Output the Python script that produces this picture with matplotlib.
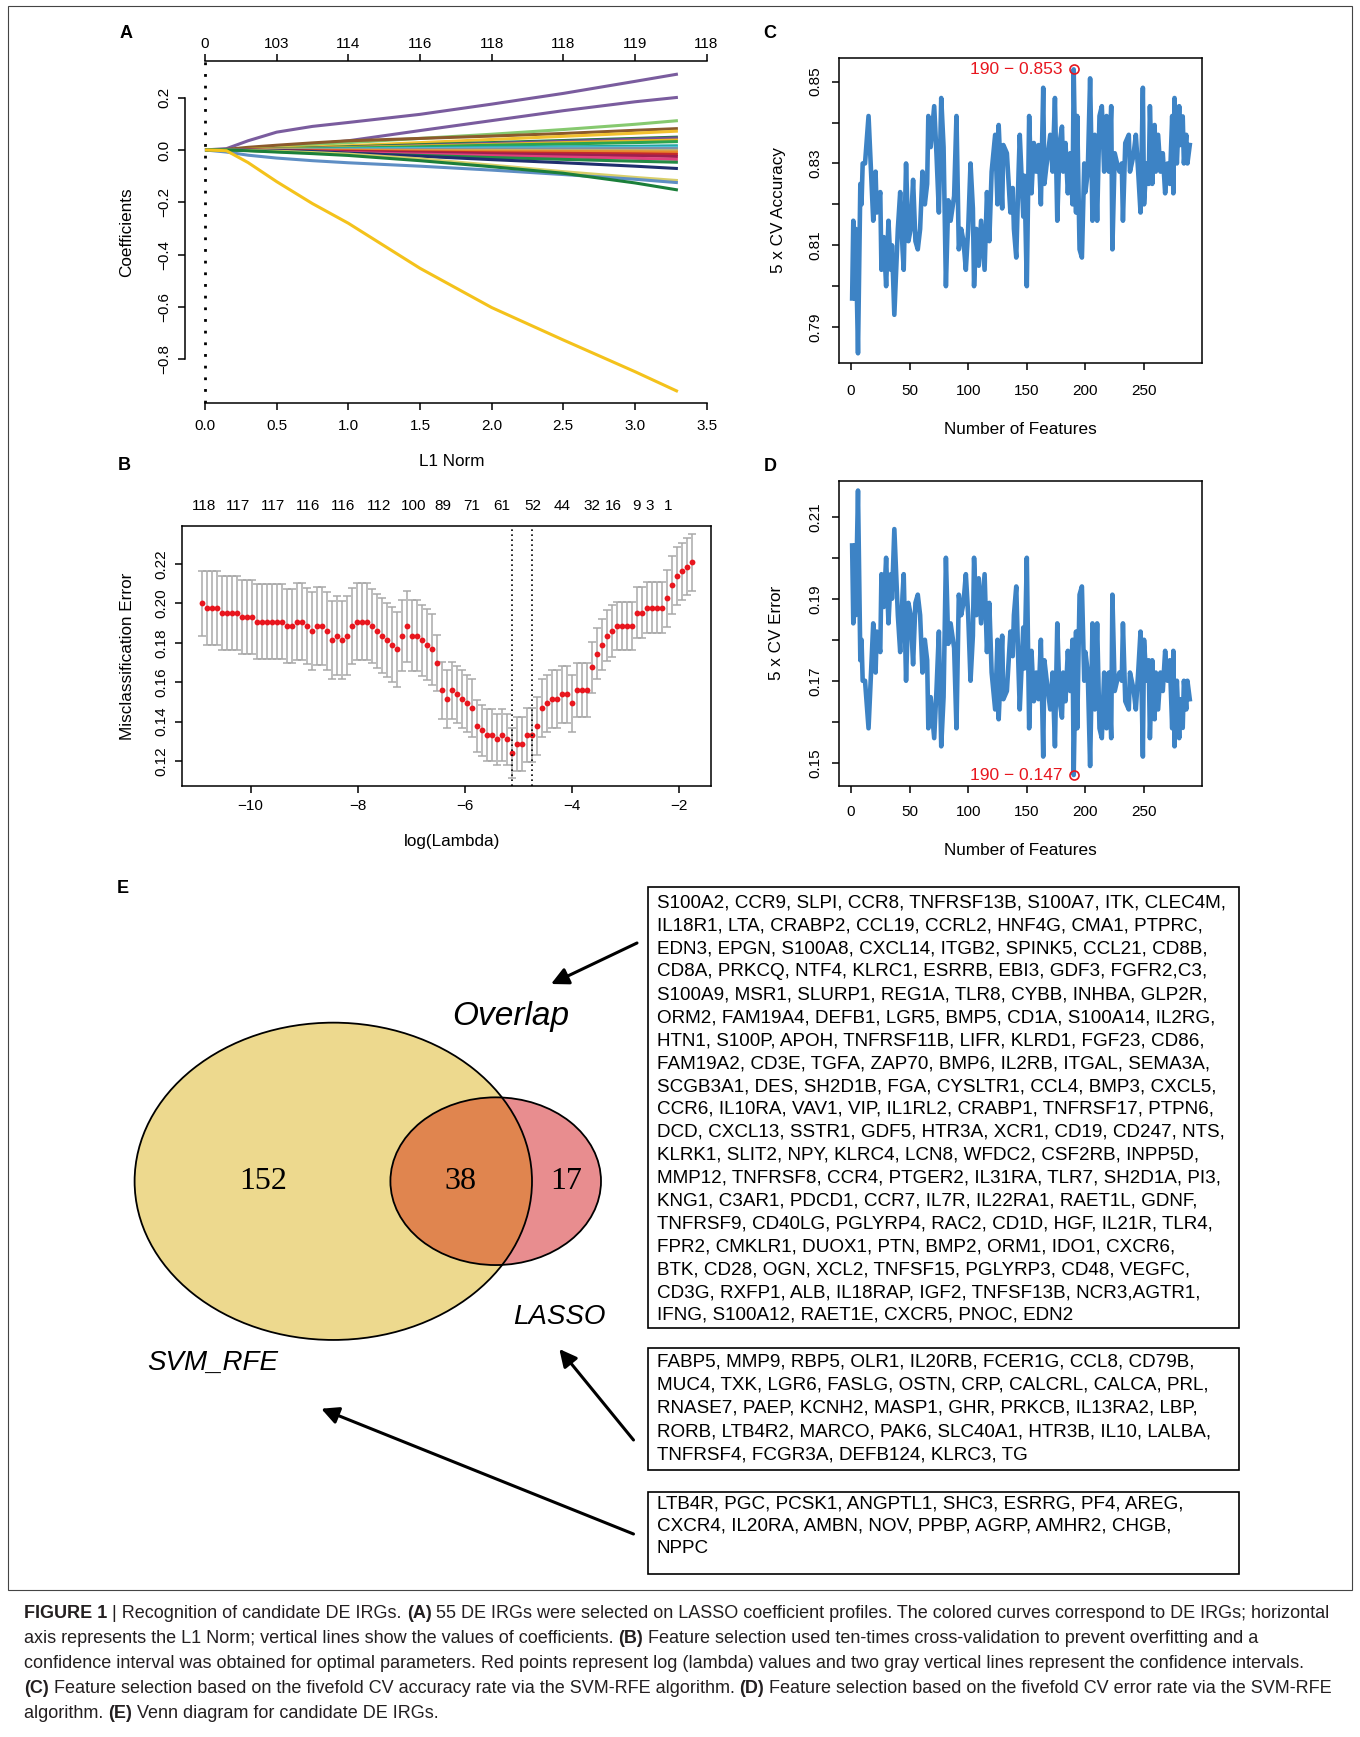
import numpy as np
import matplotlib
matplotlib.use("Agg")
import matplotlib.pyplot as plt
from matplotlib import font_manager
from matplotlib.patches import Ellipse, Rectangle, FancyArrowPatch
from matplotlib.transforms import offset_copy

W, H = 1360, 1737
plt.rcParams['font.family'] = ['Liberation Sans', 'DejaVu Sans']
installed = {f.name for f in font_manager.fontManager.ttflist}
NARROW = 'Liberation Sans Narrow' if 'Liberation Sans Narrow' in installed else 'Liberation Sans'

RED = '#E8161E'
BLUE = '#3D83C5'
GREY = '#A9A9A9'

# ========================
# A : LASSO coefficient profiles
# ========================
l1_norm = [0, 0.15, 0.3, 0.5, 0.75, 1.0, 1.5, 2.0, 2.5, 3.0, 3.3]
coef_colors = ['#7A5C9E', '#7A5C9E', '#86C96F', '#8B5A2B', '#F2C12E', '#1E7B3C',
               '#6E4F96', '#E9B824', '#2DA44E', '#20A39E', '#4CC3D9', '#7F8FA6',
               '#C9B86A', '#E8892B', '#C62A2A', '#9E1F4F', '#E0407E', '#238B45',
               '#1F2F6E', '#D9CF6A', '#5E8EC4', '#1B7F3A', '#F4C21B']
coef_values = [
    [0, 0.005, 0.035, 0.068, 0.090, 0.105, 0.136, 0.175, 0.216, 0.262, 0.290],
    [0, 0, 0.003, 0.012, 0.022, 0.035, 0.074, 0.112, 0.150, 0.184, 0.201],
    [0, 0, 0.004, 0.012, 0.020, 0.028, 0.044, 0.060, 0.078, 0.098, 0.112],
    [0, 0.002, 0.010, 0.018, 0.027, 0.035, 0.044, 0.053, 0.063, 0.075, 0.0815],
    [0, 0, 0.002, 0.006, 0.011, 0.016, 0.028, 0.040, 0.052, 0.064, 0.072],
    [0, 0, 0.001, 0.004, 0.008, 0.012, 0.020, 0.028, 0.036, 0.044, 0.049],
    [0, 0, 0.001, 0.003, 0.006, 0.010, 0.017, 0.025, 0.033, 0.041, 0.046],
    [0, 0, 0.001, 0.003, 0.006, 0.009, 0.015, 0.021, 0.028, 0.034, 0.038],
    [0, 0, 0, 0.002, 0.004, 0.007, 0.012, 0.018, 0.023, 0.028, 0.032],
    [0, 0, 0, 0.001, 0.003, 0.004, 0.007, 0.010, 0.012, 0.014, 0.016],
    [0, 0, 0, 0.001, 0.002, 0.003, 0.005, 0.007, 0.008, 0.009, 0.010],
    [0, 0, 0, 0, 0.001, 0.001, 0.002, 0.003, 0.004, 0.005, 0.005],
    [0, 0, 0, 0, -0.001, -0.001, -0.002, -0.002, -0.003, -0.003, -0.003],
    [0, 0, 0, -0.001, -0.002, -0.002, -0.004, -0.005, -0.006, -0.007, -0.008],
    [0, 0, -0.001, -0.002, -0.004, -0.005, -0.008, -0.011, -0.013, -0.015, -0.017],
    [0, 0, -0.001, -0.003, -0.005, -0.007, -0.011, -0.015, -0.019, -0.022, -0.025],
    [0, 0, -0.001, -0.004, -0.007, -0.010, -0.016, -0.022, -0.027, -0.032, -0.036],
    [0, 0, -0.002, -0.006, -0.010, -0.014, -0.021, -0.029, -0.036, -0.043, -0.047],
    [0, 0, -0.001, -0.003, -0.006, -0.012, -0.024, -0.037, -0.049, -0.062, -0.071],
    [0, 0, -0.002, -0.005, -0.010, -0.016, -0.034, -0.058, -0.083, -0.105, -0.117],
    [0, -0.008, -0.020, -0.031, -0.041, -0.049, -0.062, -0.077, -0.094, -0.112, -0.125],
    [0, 0, -0.003, -0.008, -0.014, -0.021, -0.041, -0.064, -0.089, -0.126, -0.153],
    [0, -0.003, -0.048, -0.121, -0.205, -0.280, -0.452, -0.602, -0.726, -0.847, -0.923],
]
a_xticks = [0, 0.5, 1.0, 1.5, 2.0, 2.5, 3.0, 3.5]
a_top_labels = ['0', '103', '114', '116', '118', '118', '119', '118']
a_yticks = [-0.8, -0.6, -0.4, -0.2, 0.0, 0.2]

# ========================
# B : cross-validation curve
# ========================
log_lambda = np.linspace(-10.911, -1.77, 99)
cv_mean = [0.2000, 0.1978, 0.1978, 0.1978, 0.1953, 0.1953, 0.1953, 0.1953, 0.1931, 0.1931,
           0.1931, 0.1907, 0.1907, 0.1907, 0.1907, 0.1907, 0.1907, 0.1885, 0.1885, 0.1907,
           0.1907, 0.1885, 0.1860, 0.1885, 0.1885, 0.1860, 0.1814, 0.1836, 0.1814, 0.1836,
           0.1885, 0.1907, 0.1907, 0.1907, 0.1885, 0.1860, 0.1836, 0.1814, 0.1791, 0.1767,
           0.1836, 0.1885, 0.1836, 0.1836, 0.1814, 0.1791, 0.1767, 0.1697, 0.1560, 0.1515,
           0.1560, 0.1538, 0.1515, 0.1493, 0.1469, 0.1378, 0.1356, 0.1332, 0.1332, 0.1310,
           0.1332, 0.1310, 0.1241, 0.1286, 0.1286, 0.1332, 0.1332, 0.1378, 0.1469, 0.1493,
           0.1515, 0.1515, 0.1538, 0.1538, 0.1493, 0.1560, 0.1560, 0.1560, 0.1675, 0.1745,
           0.1791, 0.1836, 0.1860, 0.1885, 0.1885, 0.1885, 0.1885, 0.1953, 0.1953, 0.1978,
           0.1978, 0.1978, 0.1978, 0.2025, 0.2093, 0.2139, 0.2163, 0.2186, 0.2208]
cv_sd = [0.0166, 0.0188, 0.0188, 0.0188, 0.0188, 0.0188, 0.0188, 0.0188, 0.0190, 0.0190,
         0.0190, 0.0190, 0.0190, 0.0190, 0.0190, 0.0190, 0.0190, 0.0190, 0.0190, 0.0195,
         0.0195, 0.0195, 0.0200, 0.0200, 0.0200, 0.0200, 0.0200, 0.0200, 0.0200, 0.0200,
         0.0195, 0.0195, 0.0195, 0.0195, 0.0190, 0.0190, 0.0190, 0.0190, 0.0190, 0.0190,
         0.0180, 0.0180, 0.0180, 0.0180, 0.0180, 0.0180, 0.0180, 0.0140, 0.0145, 0.0145,
         0.0145, 0.0145, 0.0145, 0.0145, 0.0145, 0.0130, 0.0130, 0.0130, 0.0130, 0.0130,
         0.0130, 0.0130, 0.0125, 0.0135, 0.0135, 0.0135, 0.0135, 0.0145, 0.0145, 0.0145,
         0.0145, 0.0145, 0.0145, 0.0145, 0.0145, 0.0135, 0.0135, 0.0135, 0.0130, 0.0130,
         0.0130, 0.0130, 0.0130, 0.0120, 0.0120, 0.0120, 0.0120, 0.0130, 0.0130, 0.0130,
         0.0130, 0.0130, 0.0130, 0.0145, 0.0145, 0.0145, 0.0145, 0.0145, 0.0145]
lambda_lines = [-5.127, -4.754]
nz_pos = [-10.87, -10.23, -9.58, -8.92, -8.27, -7.61, -6.96, -6.42, -5.87, -5.31,
          -4.74, -4.19, -3.62, -3.22, -2.80, -2.55, -2.21]
nz_labels = ['118', '117', '117', '116', '116', '112', '100', '89', '71', '61',
             '52', '44', '32', '16', '9', '3', '1']

# ========================
# C / D : SVM-RFE accuracy (error = 1 - accuracy)
# ========================
n_features = [1, 2, 3, 4, 6, 8, 9, 10, 12, 15, 17, 19, 21, 22, 25, 26, 28, 30, 32, 34,
              35, 37, 40, 42, 44, 45, 47, 49, 51, 53, 55, 57, 59, 61, 63, 65, 66, 68, 71, 73,
              75, 77, 79, 81, 83, 85, 88, 90, 92, 94, 96, 98, 100, 102, 104, 105, 107, 109, 111, 114,
              116, 118, 120, 123, 125, 126, 129, 130, 133, 136, 138, 139, 141, 143, 144, 147, 148, 150, 152, 154,
              156, 158, 160, 162, 164, 165, 167, 170, 172, 174, 176, 178, 180, 181, 183, 185, 187, 189, 190, 192,
              193, 195, 197, 199, 200, 202, 204, 205, 206, 208, 210, 212, 214, 216, 218, 220, 222, 223, 225, 227,
              229, 231, 232, 234, 237, 238, 241, 243, 245, 247, 249, 250, 252, 254, 255, 257, 259, 260, 262, 264,
              266, 268, 270, 272, 274, 275, 276, 278, 280, 281, 283, 284, 286, 287, 289]
cv_accuracy = [0.797, 0.816, 0.797, 0.814, 0.7836, 0.825, 0.820, 0.830, 0.830, 0.8416,
               0.829, 0.816, 0.828, 0.818, 0.823, 0.804, 0.812, 0.800, 0.816, 0.804,
               0.810, 0.793, 0.814, 0.823, 0.809, 0.804, 0.830, 0.811, 0.814, 0.826,
               0.811, 0.809, 0.814, 0.828, 0.820, 0.825, 0.8416, 0.834, 0.844, 0.832,
               0.818, 0.846, 0.834, 0.800, 0.821, 0.816, 0.822, 0.8416, 0.809, 0.814,
               0.811, 0.804, 0.814, 0.830, 0.819, 0.800, 0.814, 0.805, 0.816, 0.804,
               0.823, 0.811, 0.828, 0.837, 0.820, 0.8394, 0.819, 0.8345, 0.8325, 0.818,
               0.824, 0.814, 0.807, 0.828, 0.837, 0.817, 0.827, 0.800, 0.8416, 0.8227,
               0.835, 0.828, 0.8345, 0.820, 0.8485, 0.825, 0.830, 0.837, 0.828, 0.846,
               0.816, 0.835, 0.839, 0.828, 0.835, 0.8227, 0.8325, 0.820, 0.853, 0.818,
               0.8416, 0.809, 0.807, 0.830, 0.823, 0.828, 0.8508, 0.835, 0.816, 0.837,
               0.816, 0.8416, 0.844, 0.828, 0.8416, 0.828, 0.844, 0.809, 0.8325, 0.830,
               0.828, 0.830, 0.816, 0.835, 0.837, 0.828, 0.832, 0.837, 0.828, 0.818,
               0.8485, 0.820, 0.830, 0.825, 0.844, 0.825, 0.8394, 0.828, 0.837, 0.828,
               0.8325, 0.8227, 0.830, 0.825, 0.8416, 0.8227, 0.846, 0.830, 0.844, 0.8345,
               0.8415, 0.830, 0.837, 0.830, 0.8345]
cv_error = [round(1 - a, 4) for a in cv_accuracy]

# ========================
# E : Venn diagram and gene lists
# ========================
venn_counts = ['152', '38', '17']
overlap_genes = [
    "S100A2, CCR9, SLPI, CCR8, TNFRSF13B, S100A7, ITK, CLEC4M,",
    "IL18R1, LTA, CRABP2, CCL19, CCRL2, HNF4G, CMA1, PTPRC,",
    "EDN3, EPGN, S100A8, CXCL14, ITGB2, SPINK5, CCL21, CD8B,",
    "CD8A, PRKCQ, NTF4, KLRC1, ESRRB, EBI3, GDF3, FGFR2,C3,",
    "S100A9, MSR1, SLURP1, REG1A, TLR8, CYBB, INHBA, GLP2R,",
    "ORM2, FAM19A4, DEFB1, LGR5, BMP5, CD1A, S100A14, IL2RG,",
    "HTN1, S100P, APOH, TNFRSF11B, LIFR, KLRD1, FGF23, CD86,",
    "FAM19A2, CD3E, TGFA, ZAP70, BMP6, IL2RB, ITGAL, SEMA3A,",
    "SCGB3A1, DES, SH2D1B, FGA, CYSLTR1, CCL4, BMP3, CXCL5,",
    "CCR6, IL10RA, VAV1, VIP, IL1RL2, CRABP1, TNFRSF17, PTPN6,",
    "DCD, CXCL13, SSTR1, GDF5, HTR3A, XCR1, CD19, CD247, NTS,",
    "KLRK1, SLIT2, NPY, KLRC4, LCN8, WFDC2, CSF2RB, INPP5D,",
    "MMP12, TNFRSF8, CCR4, PTGER2, IL31RA, TLR7, SH2D1A, PI3,",
    "KNG1, C3AR1, PDCD1, CCR7, IL7R, IL22RA1, RAET1L, GDNF,",
    "TNFRSF9, CD40LG, PGLYRP4, RAC2, CD1D, HGF, IL21R, TLR4,",
    "FPR2, CMKLR1, DUOX1, PTN, BMP2, ORM1, IDO1, CXCR6,",
    "BTK, CD28, OGN, XCL2, TNFSF15, PGLYRP3, CD48, VEGFC,",
    "CD3G, RXFP1, ALB, IL18RAP, IGF2, TNFSF13B, NCR3,AGTR1,",
    "IFNG, S100A12, RAET1E, CXCR5, PNOC, EDN2",
]
lasso_genes = [
    "FABP5, MMP9, RBP5, OLR1, IL20RB, FCER1G, CCL8, CD79B,",
    "MUC4, TXK, LGR6, FASLG, OSTN, CRP, CALCRL, CALCA, PRL,",
    "RNASE7, PAEP, KCNH2, MASP1, GHR, PRKCB, IL13RA2, LBP,",
    "RORB, LTB4R2, MARCO, PAK6, SLC40A1, HTR3B, IL10, LALBA,",
    "TNFRSF4, FCGR3A, DEFB124, KLRC3, TG",
]
svm_genes = [
    "LTB4R, PGC, PCSK1, ANGPTL1, SHC3, ESRRG, PF4, AREG,",
    "CXCR4, IL20RA, AMBN, NOV, PPBP, AGRP, AMHR2, CHGB,",
    "NPPC",
]
caption_lines = [
    [("FIGURE 1", True), (" | Recognition of candidate DE IRGs. ", False), ("(A)", True),
     (" 55 DE IRGs were selected on LASSO coefficient profiles. The colored curves correspond to DE IRGs; horizontal", False)],
    [("axis represents the L1 Norm; vertical lines show the values of coefficients. ", False), ("(B)", True),
     (" Feature selection used ten-times cross-validation to prevent overfitting and a", False)],
    [("confidence interval was obtained for optimal parameters. Red points represent log (lambda) values and two gray vertical lines represent the confidence intervals.", False)],
    [("(C)", True), (" Feature selection based on the fivefold CV accuracy rate via the SVM-RFE algorithm. ", False),
     ("(D)", True), (" Feature selection based on the fivefold CV error rate via the SVM-RFE", False)],
    [("algorithm. ", False), ("(E)", True), (" Venn diagram for candidate DE IRGs.", False)],
]

# ========================
# figure helpers (pixel coordinates, origin top-left)
# ========================
fig = plt.figure(figsize=(W / 100, H / 100), dpi=100)
renderer = fig.canvas.get_renderer()


def px_axes(x0, y0, x1, y1):
    return fig.add_axes([x0 / W, 1 - y1 / H, (x1 - x0) / W, (y1 - y0) / H])


def ftext(x, y, s, **kw):
    return fig.text(x / W, 1 - y / H, s, **kw)


def fit_size(s, target, base=12, **kw):
    t = fig.text(0, 0, s, fontsize=base, **kw)
    w = t.get_window_extent(renderer).width
    t.remove()
    return base * target / w


def style_axis(ax, xpad, ypad, lw=1.1):
    for sp in ax.spines.values():
        sp.set_linewidth(lw)
    ax.tick_params(direction='out', length=4.8, width=lw, labelsize=11, top=False, right=False)
    ax.tick_params(axis='x', pad=xpad)
    ax.tick_params(axis='y', pad=ypad, labelrotation=90)
    for lab in ax.get_yticklabels():
        lab.set_va('center')


# overlay axes for the Venn diagram, boxes and arrows
ov = fig.add_axes([0, 0, 1, 1])
ov.set_xlim(0, W)
ov.set_ylim(H, 0)
ov.axis('off')

# ---------- panel A ----------
axA = px_axes(184.5, 60.7, 711, 403.3)
for c, vals in zip(coef_colors, coef_values):
    axA.plot(l1_norm, vals, color=c, lw=2.2, solid_capstyle='butt')
axA.axvline(0, color='black', lw=2.0, ls=(0, (1, 3.2)))
axA.set_xlim(-0.143, 3.531)
axA.set_ylim(-0.968, 0.341)
axA.spines['right'].set_visible(False)
axA.spines['top'].set_visible(False)
axA.spines['left'].set_bounds(-0.8, 0.2)
axA.spines['bottom'].set_bounds(0, 3.5)
axA.set_xticks(a_xticks)
axA.set_yticks(a_yticks)
style_axis(axA, 6.4, 4.5)
secA = axA.secondary_xaxis('top')
secA.set_xticks(a_xticks, labels=a_top_labels)
secA.spines['top'].set_bounds(0, 3.5)
secA.spines['top'].set_linewidth(1.1)
secA.tick_params(direction='out', length=4.8, width=1.1, labelsize=11, pad=2)
ftext(452, 461, "L1 Norm", fontsize=12.3, ha='center', va='center')
ftext(127, 232, "Coefficients", fontsize=12.3, ha='center', va='center', rotation=90)

# ---------- panel B ----------
axB = px_axes(182.3, 525.7, 711, 785.7)
axB.errorbar(log_lambda, cv_mean, yerr=cv_sd, fmt='none', ecolor=GREY,
             elinewidth=1.1, capsize=3.0, capthick=1.1)
axB.plot(log_lambda, cv_mean, 'o', color=RED, ms=4.2, mec='none')
for v in lambda_lines:
    axB.axvline(v, color='black', lw=1.2, ls=(0, (1, 2)))
axB.set_xlim(-11.276, -1.406)
axB.set_ylim(0.1075, 0.2394)
axB.set_xticks([-10, -8, -6, -4, -2])
axB.set_yticks([0.12, 0.14, 0.16, 0.18, 0.20, 0.22])
style_axis(axB, 4.7, 5.5)
secB = axB.secondary_xaxis('top')
secB.set_xticks(nz_pos, labels=nz_labels)
secB.spines['top'].set_visible(False)
secB.tick_params(length=0, labelsize=11, pad=9)
ftext(452, 841, "log(Lambda)", fontsize=12.3, ha='center', va='center')
ftext(127, 656, "Misclassification Error", fontsize=12.3, ha='center', va='center', rotation=90)

# ---------- panel C ----------
best = int(np.argmax(cv_accuracy))
axC = px_axes(839, 58.3, 1202.3, 362.7)
axC.plot(n_features, cv_accuracy, color=BLUE, lw=3.3, solid_joinstyle='round')
axC.plot(n_features[best], cv_accuracy[best], 'o', mfc='none', mec=RED, ms=6.5, mew=1.2)
axC.text(n_features[best], cv_accuracy[best], f"{n_features[best]} \u2212 {cv_accuracy[best]:.3f}",
         color=RED, fontsize=12.5, ha='right', va='center',
         transform=offset_copy(axC.transData, fig, x=-11, y=0, units='dots'))
axC.set_xlim(-10.2, 299.7)
axC.set_ylim(0.7813, 0.8557)
axC.set_xticks([0, 50, 100, 150, 200, 250])
axC.set_yticks([0.79, 0.80, 0.81, 0.82, 0.83, 0.84, 0.85],
               labels=['0.79', '', '0.81', '', '0.83', '', '0.85'])
style_axis(axC, 10.4, 7.0)
ftext(1020.7, 430, "Number of Features", fontsize=12.3, ha='center', va='center')
ftext(778.3, 210, "5 x CV Accuracy", fontsize=12.3, ha='center', va='center', rotation=90)

# ---------- panel D ----------
low = int(np.argmin(cv_error))
axD = px_axes(839, 480.7, 1202.3, 785.7)
axD.plot(n_features, cv_error, color=BLUE, lw=3.3, solid_joinstyle='round')
axD.plot(n_features[low], cv_error[low], 'o', mfc='none', mec=RED, ms=6.5, mew=1.2)
axD.text(n_features[low], cv_error[low], f"{n_features[low]} \u2212 {cv_error[low]:.3f}",
         color=RED, fontsize=12.5, ha='right', va='center',
         transform=offset_copy(axD.transData, fig, x=-11, y=0, units='dots'))
axD.set_xlim(-10.2, 299.7)
axD.set_ylim(0.1444, 0.2188)
axD.set_xticks([0, 50, 100, 150, 200, 250])
axD.set_yticks([0.15, 0.16, 0.17, 0.18, 0.19, 0.20, 0.21],
               labels=['0.15', '', '0.17', '', '0.19', '', '0.21'])
style_axis(axD, 9.4, 7.0)
ftext(1020.7, 850, "Number of Features", fontsize=12.3, ha='center', va='center')
ftext(776.7, 633, "5 x CV Error", fontsize=12.3, ha='center', va='center', rotation=90)

# ---------- panel letters ----------
for letter, (x, y) in zip("ABCDE", [(125.7, 33.3), (124.5, 465), (770, 33.3), (770.7, 466.7), (123.2, 888.3)]):
    ftext(x, y, letter, fontsize=13, fontweight='bold', ha='center', va='center')

# ---------- panel E : Venn ----------
big = Ellipse((333.3, 1181.3), 397.4, 317.3, fc='#EDD98E', ec='none')
small = Ellipse((495.7, 1181.2), 210.6, 167.7, fc='#E88D8F', ec='none')
ov.add_patch(big)
ov.add_patch(small)
inter = Ellipse((495.7, 1181.2), 210.6, 167.7, fc='#E0854F', ec='none')
ov.add_patch(inter)
inter.set_clip_path(big)
ov.add_patch(Ellipse((333.3, 1181.3), 397.4, 317.3, fill=False, ec='black', lw=1.3))
ov.add_patch(Ellipse((495.7, 1181.2), 210.6, 167.7, fill=False, ec='black', lw=1.3))
for s, x in zip(venn_counts, [263.6, 460.7, 566]):
    ov.text(x, 1181.7, s, fontsize=23, family=['Liberation Serif', 'DejaVu Serif'],
            ha='center', va='center')
ov.text(510.7, 1016.7, "Overlap", fontsize=24, style='italic', ha='center', va='center')
ov.text(559, 1316.7, "LASSO", fontsize=20, style='italic', ha='center', va='center')
ov.text(212.5, 1363.3, "SVM_RFE", fontsize=20, style='italic', ha='center', va='center')

# gene boxes
gsize = fit_size(overlap_genes[0], 568, base=13)
boxes = [(overlap_genes, 887.3, 1328.3, 903.3, 22.9),
         (lasso_genes, 1348.3, 1470, 1361.7, 23.3),
         (svm_genes, 1491.7, 1574, 1504, 22.4)]
for lines, top, bottom, first, step in boxes:
    ov.add_patch(Rectangle((648, top), 1238.7 - 648, bottom - top, fill=False, ec='black', lw=1.2))
    for i, line in enumerate(lines):
        ov.text(657, first + i * step, line, fontsize=gsize, ha='left', va='center')

# arrows
for (x0, y0), (x1, y1) in [((637, 943), (551, 984)), ((633.5, 1440), (559.3, 1349)),
                           ((633.5, 1534), (321.2, 1408.7))]:
    ov.add_patch(FancyArrowPatch((x0, y0), (x1, y1), arrowstyle='-|>', mutation_scale=26,
                                 lw=2.2, color='black', shrinkA=0, shrinkB=0))

# outer frame
ov.add_patch(Rectangle((8, 6), 1344, 1584, fill=False, ec='#444444', lw=0.8))

# ---------- caption ----------
csize = fit_size("".join(s for s, b in caption_lines[0]), 1308, base=12, family=NARROW)
for i, segs in enumerate(caption_lines):
    x = 24
    y = 1614 + i * 24.8
    for s, bold in segs:
        t = ftext(x, y, s, fontsize=csize, fontweight='bold' if bold else 'normal',
                  family=NARROW, ha='left', va='center', color='#231F20')
        x += t.get_window_extent(renderer).width

fig.savefig("out.png", dpi=100)
